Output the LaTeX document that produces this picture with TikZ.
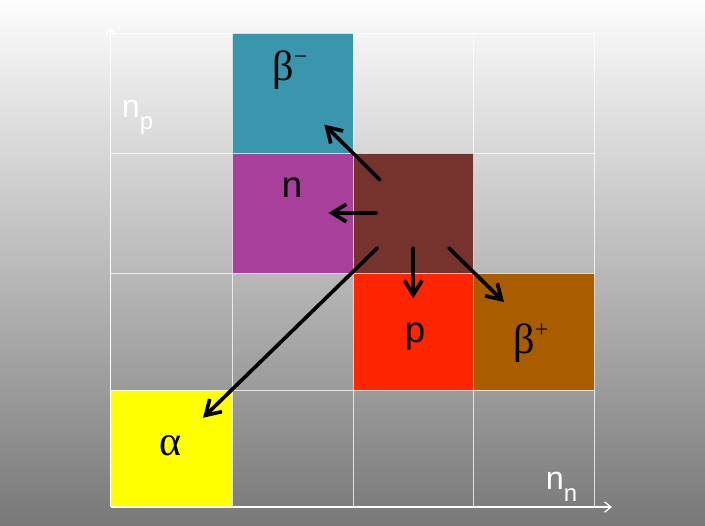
\documentclass[tikz,border=0pt]{standalone}
\usepackage{fontspec}
\setmainfont{Liberation Sans}
\newfontfamily\greekfont{Liberation Serif}
\usetikzlibrary{arrows.meta}
\definecolor{bminuscol}{RGB}{57,150,172}
\definecolor{neutcol}{RGB}{167,63,155}
\definecolor{mothercol}{RGB}{118,51,45}
\definecolor{protcol}{RGB}{255,37,0}
\definecolor{bpluscol}{RGB}{170,93,0}
\definecolor{alphacol}{RGB}{255,255,0}
\tikzset{
cell/.style={inner sep=0pt,outer sep=0pt,minimum width=3.025cm,minimum height=3cm},
lowcell/.style={cell,minimum height=2.925cm},
letter/.style={inner sep=0pt,font=\fontsize{26}{30}\selectfont},
greek/.style={inner sep=0pt,font=\greekfont\fontsize{30}{34}\selectfont},
axislabel/.style={inner sep=0pt,text=white,font=\fontsize{23}{27}\selectfont},
decay/.style={-{Straight Barb[length=3.6mm,width=4.4mm]},line width=2.6pt,line cap=round},
axis/.style={-{Straight Barb[length=1.6mm,width=2.6mm]},white,line width=0.9pt},
gridline/.style={white,line width=0.7pt,opacity=0.75}
}
\newcommand{\axislab}[2]{#1\raisebox{-0.37em}{\fontsize{17}{20}\selectfont #2}}
\newcommand{\charge}[1]{\raisebox{11pt}{\fontsize{17}{19}\selectfont #1}}

\begin{document}
\begin{tikzpicture}[x=0.025cm,y=-0.025cm]
\useasboundingbox (0,0) rectangle (705,526);
\shade[top color={rgb,255:red,253;green,253;blue,253},middle color={rgb,255:red,200;green,200;blue,200},bottom color={rgb,255:red,120;green,120;blue,120}] (0,0) rectangle (705,526);

\node[cell,fill=bminuscol] (bminus) at (292.5,93) {};
\node[cell,fill=neutcol] (neut) at (292.5,213) {};
\node[cell,fill=mothercol] (mother) at (413.25,213) {};
\node[lowcell,fill=protcol] (prot) at (413.25,331.5) {};
\node[lowcell,fill=bpluscol] (bplus) at (534,331.5) {};
\node[lowcell,fill=alphacol] (alpha) at (171.5,448.5) {};

\foreach \x in {232,353,473.5,594.5} \draw[gridline] (\x,33) -- (\x,507);
\foreach \y in {33,153,273,390} \draw[gridline] (111,\y) -- (594.5,\y);

\coordinate (origin) at (110.5,507);
\coordinate (nptip) at (110.5,28);
\coordinate (nntip) at (612,507);
\draw[axis] (origin) -- (nptip);
\draw[axis] (origin) -- (nntip);
\node[axislabel] (nplabel) at (137.5,117) {\axislab{n}{p}};
\node[axislabel] (nnlabel) at (561.5,487) {\axislab{n}{n}};

\node[greek] (bminustext) at (290,70) {β\charge{−}};
\node[letter] (neuttext) at (292,188) {n};
\node[letter] (prottext) at (415,336.5) {p};
\node[greek] (bplustext) at (531,343) {β\charge{+}};
\node[greek] (alphatext) at (171,446) {α};

\draw[decay,shorten <=1.18cm,shorten >=1.12cm] (mother.center) -- (bminus.center);
\draw[decay,shorten <=0.93cm,shorten >=0.9cm] (mother.center) -- (neut.center);
\draw[decay,shorten <=0.88cm,shorten >=0.83cm] (mother.center) -- (prot.center);
\draw[decay,shorten <=1.25cm,shorten >=1.05cm] (mother.center) -- (bplus.center);
\draw[decay,shorten <=1.25cm,shorten >=1.1cm] (mother.center) -- (alpha.center);
\end{tikzpicture}
\end{document}
